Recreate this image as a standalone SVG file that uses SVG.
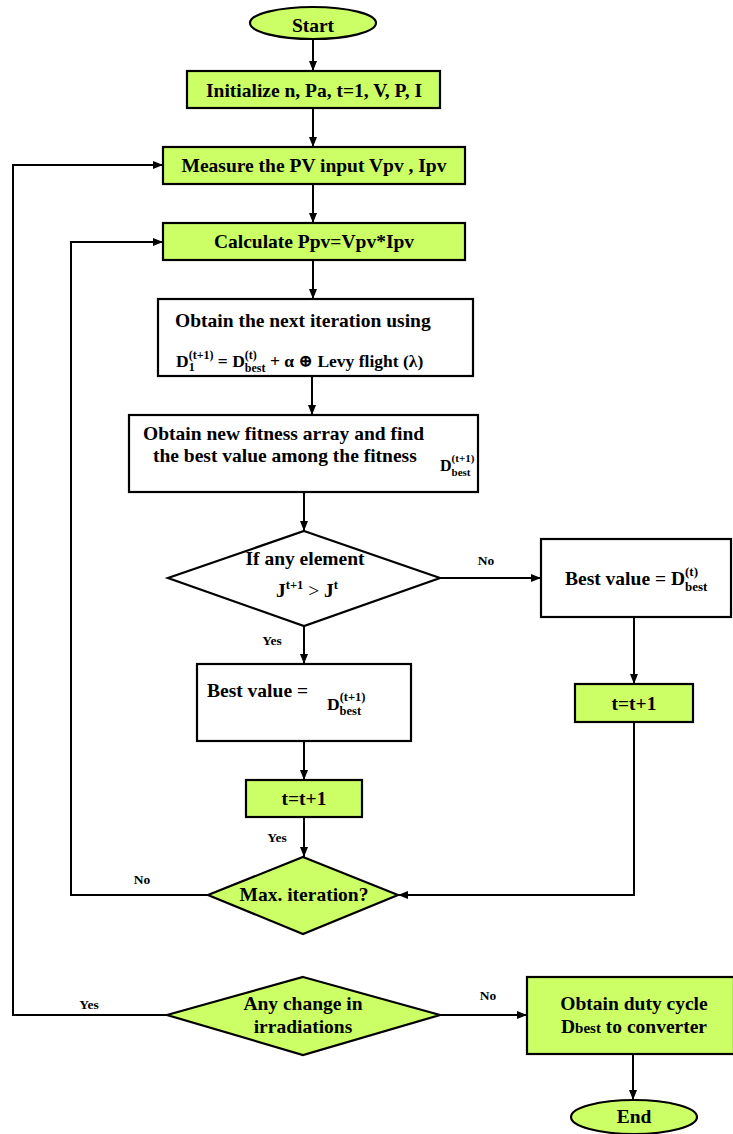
<svg xmlns="http://www.w3.org/2000/svg" width="733" height="1134" viewBox="0 0 733 1134">
<style>
.g{fill:#ccff66;stroke:#000;stroke-width:2.2}
.w{fill:#fff;stroke:#000;stroke-width:2.2}
.c{fill:none;stroke:#000;stroke-width:2}
text{font-family:"Liberation Serif","Times New Roman",serif;font-weight:bold;fill:#000}
.t{font-size:19.5px}
.m{text-anchor:middle}
.l{font-size:13.5px;text-anchor:middle}
.f{font-family:"Liberation Serif","DejaVu Serif",serif}
</style>
<defs>
<marker id="ah" markerWidth="10" markerHeight="8" refX="10" refY="4" orient="auto" markerUnits="userSpaceOnUse">
<path d="M0,0 L10,4 L0,8 Z" fill="#000"/>
</marker>
</defs>
<rect width="733" height="1134" fill="#fff"/>

<g id="connectors">
<line class="c" x1="313" y1="39" x2="313" y2="71" marker-end="url(#ah)"/>
<line class="c" x1="313" y1="108" x2="313" y2="147" marker-end="url(#ah)"/>
<line class="c" x1="313" y1="184" x2="313" y2="223" marker-end="url(#ah)"/>
<line class="c" x1="313" y1="260" x2="313" y2="299" marker-end="url(#ah)"/>
<line class="c" x1="312" y1="376" x2="312" y2="415" marker-end="url(#ah)"/>
<line class="c" x1="304" y1="492" x2="304" y2="531" marker-end="url(#ah)"/>
<line class="c" x1="440" y1="578" x2="541" y2="578" marker-end="url(#ah)"/>
<line class="c" x1="304" y1="626" x2="304" y2="664" marker-end="url(#ah)"/>
<line class="c" x1="304" y1="741" x2="304" y2="780" marker-end="url(#ah)"/>
<line class="c" x1="304" y1="817" x2="304" y2="857" marker-end="url(#ah)"/>
<line class="c" x1="634" y1="617" x2="634" y2="684" marker-end="url(#ah)"/>
<polyline class="c" points="634,722 634,895 398,895" marker-end="url(#ah)"/>
<polyline class="c" points="208,895 71,895 71,242 163,242" marker-end="url(#ah)"/>
<polyline class="c" points="167,1015 13,1015 13,165 163,165" marker-end="url(#ah)"/>
<line class="c" x1="440" y1="1015" x2="527" y2="1015" marker-end="url(#ah)"/>
<line class="c" x1="633" y1="1054" x2="633" y2="1100" marker-end="url(#ah)"/>
<text class="l" x="272" y="645">Yes</text>
<text class="l" x="486" y="565">No</text>
<text class="l" x="277" y="842">Yes</text>
<text class="l" x="142" y="884">No</text>
<text class="l" x="89" y="1009">Yes</text>
<text class="l" x="488" y="1000">No</text>
</g>

<g id="start">
<ellipse class="g" cx="313" cy="23" rx="63" ry="16"/>
<text class="t m" x="313" y="32">Start</text>
</g>

<g id="init">
<rect class="g" x="187" y="71" width="253" height="37"/>
<text class="t m" x="314" y="97">Initialize n, Pa, t=1, V, P, I</text>
</g>

<g id="measure">
<rect class="g" x="163" y="147" width="302" height="37"/>
<text class="t m" x="314" y="172">Measure the PV input Vpv , Ipv</text>
</g>

<g id="calculate">
<rect class="g" x="163" y="223" width="302" height="37"/>
<text class="t m" x="314" y="248">Calculate Ppv=Vpv*Ipv</text>
</g>

<g id="next-iteration">
<rect class="w" x="158" y="299" width="315" height="77"/>
<text class="t" x="175" y="327">Obtain the next iteration using</text>
<text class="f" font-size="17.5" x="176" y="367">D<tspan font-size="12" y="371">1</tspan><tspan font-size="12" dx="-6" y="359">(t+1)</tspan><tspan y="367"> = D</tspan><tspan font-size="12" y="359">(t)</tspan><tspan font-size="12" dx="-12" y="372">best</tspan><tspan y="367"> + α ⊕ Levy flight (λ)</tspan></text>
</g>

<g id="fitness">
<rect class="w" x="129" y="415" width="349" height="77"/>
<text class="t" x="143" y="440">Obtain new fitness array and find</text>
<text class="t" x="153" y="462">the best value among the fitness</text>
<text class="f" font-size="16" x="440" y="471">D<tspan font-size="11" y="462">(t+1)</tspan><tspan font-size="11" dx="-22.8" y="476">best</tspan></text>
</g>

<g id="decision-element">
<polygon class="w" points="304,531 440,578 304,626 168,578"/>
<text class="t m" x="305" y="565">If any element</text>
<text class="t" x="276" y="597">J<tspan font-size="12.5" y="589">t+1</tspan><tspan y="597" font-weight="normal"> &gt; </tspan><tspan y="597">J</tspan><tspan font-size="12.5" y="589">t</tspan></text>
</g>

<g id="best-right">
<rect class="w" x="541" y="539" width="190" height="78"/>
<text class="t" x="565" y="585">Best value = D<tspan font-size="13" y="576">(t)</tspan><tspan font-size="13" dx="-13" y="591">best</tspan></text>
</g>

<g id="t-right">
<rect class="g" x="575" y="684" width="118" height="38"/>
<text class="t m" x="634" y="710">t=t+1</text>
</g>

<g id="best-left">
<rect class="w" x="197" y="664" width="214" height="77"/>
<text class="t" x="207" y="697">Best value =</text>
<text class="f" font-size="17.5" x="327" y="710">D<tspan font-size="12.5" y="701">(t+1)</tspan><tspan font-size="12.5" dx="-25.9" y="715">best</tspan></text>
</g>

<g id="t-left">
<rect class="g" x="246" y="780" width="116" height="37"/>
<text class="t m" x="304" y="805">t=t+1</text>
</g>

<g id="max-iteration">
<polygon class="g" points="303,857 398,895 303,934 208,895"/>
<text class="t m" x="304" y="901">Max. iteration?</text>
</g>

<g id="change">
<polygon class="g" points="303,977 440,1015 303,1055 167,1015"/>
<text class="t m" x="303" y="1010">Any change in</text>
<text class="t m" x="303" y="1033">irradiations</text>
</g>

<g id="duty">
<rect class="g" x="527" y="977" width="207" height="77"/>
<text class="t m" x="634" y="1010">Obtain duty cycle</text>
<text class="t m" x="634" y="1033">D<tspan font-size="15">best</tspan> to converter</text>
</g>

<g id="end">
<ellipse class="g" cx="634" cy="1117" rx="63" ry="17"/>
<text class="t m" x="634" y="1123">End</text>
</g>
</svg>
